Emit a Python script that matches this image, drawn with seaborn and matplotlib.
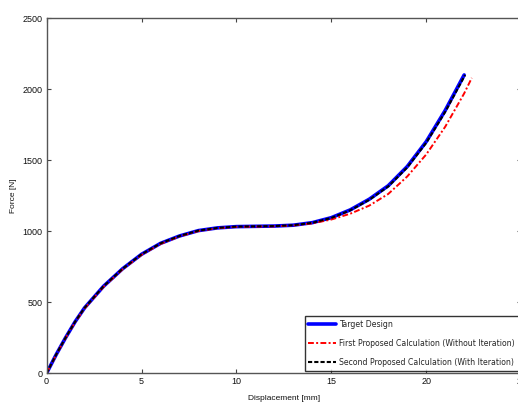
import numpy as np
import pandas as pd
import matplotlib
matplotlib.use("Agg")
import matplotlib.pyplot as plt
from matplotlib.font_manager import FontProperties
import seaborn as sns

# Data
disp_target = [0, 0.5, 1, 1.5, 2, 3, 4, 5, 6, 7, 8, 9, 10, 11, 12, 13, 14, 15, 16, 17, 18, 19, 20, 21, 22]
force_target = [0, 130, 250, 362, 460, 612, 735, 837, 914, 966, 1004, 1023, 1032, 1034, 1036, 1042, 1060,
                1095, 1150, 1225, 1320, 1455, 1630, 1850, 2100]

disp_first = [0, 0.5, 1, 1.5, 2, 3, 4, 5, 6, 7, 8, 9, 10, 11, 12, 13, 14, 15, 16, 17, 18, 19, 20, 21, 22, 22.4]
force_first = [0, 128, 248, 359, 456, 608, 731, 833, 910, 963, 1001, 1021, 1030, 1032, 1034, 1040, 1055,
               1082, 1123, 1180, 1262, 1385, 1540, 1735, 1970, 2079]

disp_second = [0, 0.5, 1, 1.5, 2, 3, 4, 5, 6, 7, 8, 9, 10, 11, 12, 13, 14, 15, 16, 17, 18, 19, 20, 21, 22.05]
force_second = [0, 130, 250, 362, 460, 612, 735, 837, 914, 966, 1004, 1023, 1032, 1034, 1036, 1042, 1059,
                1093, 1147, 1221, 1315, 1449, 1622, 1840, 2100]

labels = ["Target Design",
          "First Proposed Calculation (Without Iteration)",
          "Second Proposed Calculation (With Iteration)"]

x_ticks = [0, 5, 10, 15, 20, 25]
y_ticks = [0, 500, 1000, 1500, 2000, 2500]

sns.set_theme(style="white")
plt.rcParams["font.family"] = ["Liberation Sans", "DejaVu Sans"]

fig = plt.figure(figsize=(5.18, 4.03), dpi=100)
ax = fig.add_axes([0.090, 0.074, 0.916, 0.881])

df_t = pd.DataFrame({"x": disp_target, "y": force_target})
df_f = pd.DataFrame({"x": disp_first, "y": force_first})
df_s = pd.DataFrame({"x": disp_second, "y": force_second})

sns.lineplot(data=df_t, x="x", y="y", ax=ax, color="#0000ff", linewidth=2.6,
             label=labels[0], sort=False)
sns.lineplot(data=df_f, x="x", y="y", ax=ax, color="#ff0000", linewidth=1.4,
             linestyle=(0, (3, 1.2, 1, 1.2)), label=labels[1], sort=False)
sns.lineplot(data=df_s, x="x", y="y", ax=ax, color="#000000", linewidth=1.5,
             linestyle=(0, (2, 1)), label=labels[2], sort=False)

ax.set_xlim(0, 25)
ax.set_ylim(0, 2500)
ax.set_xticks(x_ticks)
ax.set_yticks(y_ticks)
ax.set_xticklabels([str(t) for t in x_ticks])
ax.set_yticklabels([str(t) for t in y_ticks])
ax.tick_params(direction="in", length=3, width=0.8, colors="#444444",
               labelcolor="#111111", labelsize=6.5, top=True, right=True,
               bottom=True, left=True, pad=3)
for s in ax.spines.values():
    s.set_color("#555555")
    s.set_linewidth(1.0)

ax.set_xlabel("Displacement [mm]", fontsize=6, labelpad=6, color="#111111")
ax.set_ylabel("Force [N]", fontsize=6, labelpad=4, color="#111111")

legfont = FontProperties(family="DejaVu Sans", stretch="condensed", size=6.2)
leg = ax.legend(loc="lower right", bbox_to_anchor=(1.0, 0.0), borderaxespad=0.25,
                prop=legfont, frameon=True, fancybox=False, edgecolor="black",
                handlelength=3.2, handletextpad=0.4, labelspacing=1.15,
                borderpad=0.45)
leg.get_frame().set_linewidth(1.0)

fig.savefig("out.png", dpi=100, facecolor="white")
